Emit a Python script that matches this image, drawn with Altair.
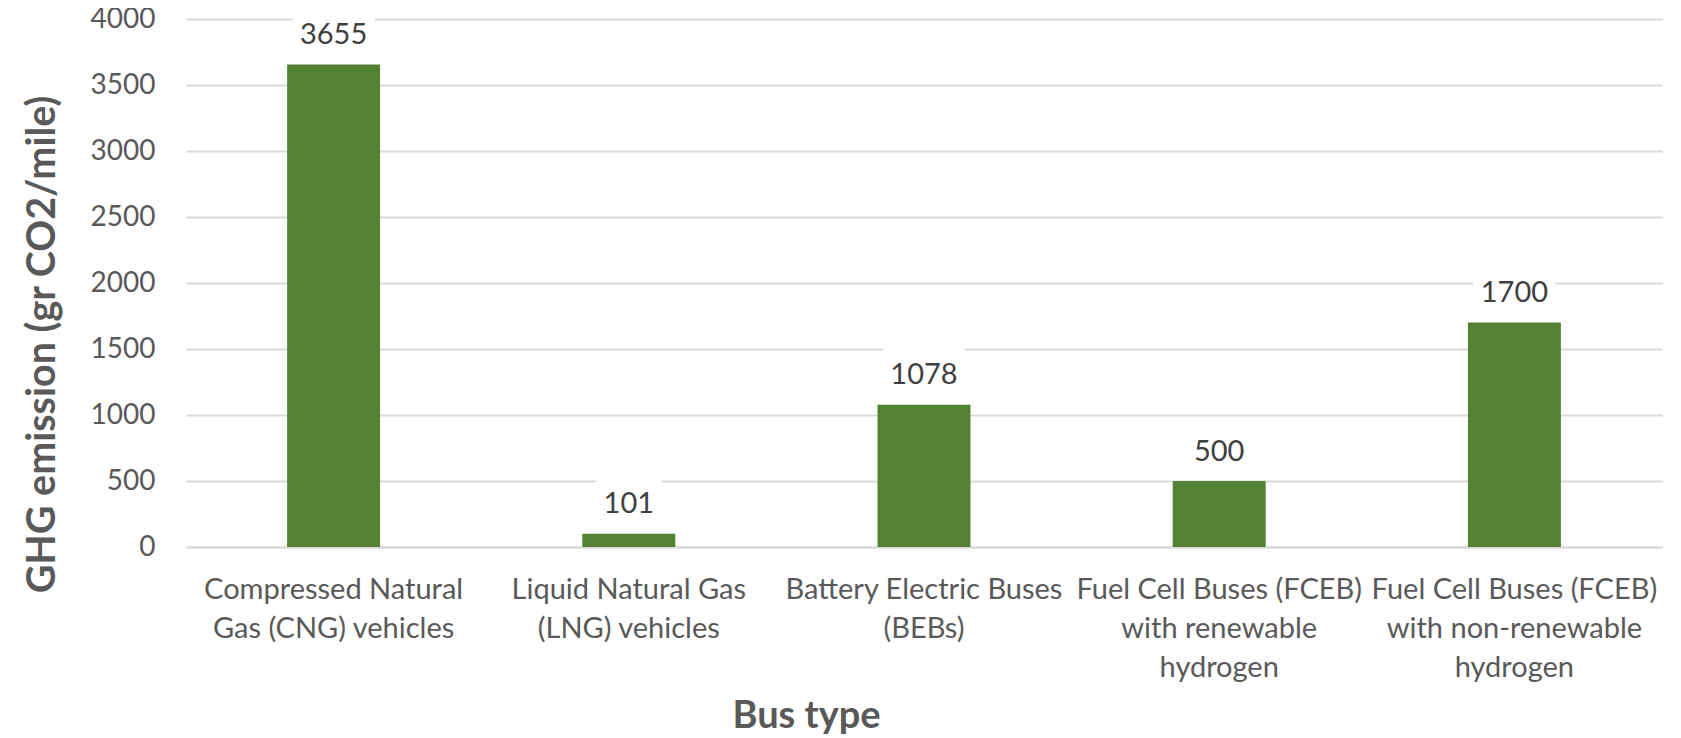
import altair as alt
import pandas as pd

# ---- data ----
categories = [
    "Compressed Natural\nGas (CNG) vehicles",
    "Liquid Natural Gas\n(LNG) vehicles",
    "Battery Electric Buses\n(BEBs)",
    "Fuel Cell Buses (FCEB)\nwith renewable\nhydrogen",
    "Fuel Cell Buses (FCEB)\nwith non-renewable\nhydrogen",
]
values = [3655, 101, 1078, 500, 1700]
y_ticks = [0, 500, 1000, 1500, 2000, 2500, 3000, 3500, 4000]
y_title = "GHG emission (gr CO2/mile)"
x_title = "Bus type"

df = pd.DataFrame({"bus": categories, "ghg": values})

FONT = "Lato"
TXT = "#595959"
GRID = "#d9d9d9"
GREEN = "#548235"

# label background boxes (white, hide gridlines behind data labels)
PATH4 = "M-1,-0.683L1,-0.683L1,0.683L-1,0.683Z"   # 82 x 56 px
PATH3 = "M-1,-0.862L1,-0.862L1,0.862L-1,0.862Z"   # 65 x 56 px

x_enc = alt.X(
    "bus:N",
    sort=categories,
    scale=alt.Scale(paddingInner=0.685, paddingOuter=0.3425),
    axis=alt.Axis(
        title=x_title,
        labelExpr="split(datum.label, '\\n')",
        labelAngle=0,
        labelFont=FONT,
        labelFontSize=29,
        labelLineHeight=39,
        labelColor=TXT,
        labelPadding=28,
        labelLimit=0,
        labelOverlap=False,
        ticks=False,
        domain=True,
        domainColor=GRID,
        domainWidth=2,
        grid=False,
        titleFont=FONT,
        titleFontSize=38,
        titleFontWeight="bold",
        titleColor=TXT,
        titleX=620,
        titleY=180,
        titleAlign="center",
        titleBaseline="alphabetic",
    ),
)

y_enc = alt.Y(
    "ghg:Q",
    scale=alt.Scale(domain=[0, 4000], nice=False),
    axis=alt.Axis(
        title=y_title,
        values=y_ticks,
        format="d",
        labelFont=FONT,
        labelFontSize=28,
        labelColor=TXT,
        labelPadding=31,
        ticks=False,
        domain=False,
        grid=True,
        gridColor=GRID,
        gridWidth=2,
        titleFont=FONT,
        titleFontSize=39.5,
        titleFontWeight="bold",
        titleColor=TXT,
        titleAngle=-90,
        titleX=-132,
        titleY=325,
        titleAlign="center",
        titleBaseline="alphabetic",
    ),
)

base = alt.Chart(df).encode(x=x_enc, y=y_enc)

bars = base.mark_bar(color=GREEN)

boxes = base.transform_calculate(lbl="toString(datum.ghg)").mark_point(
    filled=True, color="white", opacity=1, strokeWidth=0, yOffset=-30
).encode(
    shape=alt.condition("length(datum.lbl) > 3", alt.value(PATH4), alt.value(PATH3)),
    size=alt.condition("length(datum.lbl) > 3", alt.value(6724), alt.value(4225)),
)

labels = base.mark_text(
    dy=-29.5, fontSize=29, font=FONT, color="#404040", baseline="middle"
).encode(text=alt.Text("ghg:Q", format="d"))

chart = (
    alt.layer(bars, boxes, labels)
    .properties(
        width=1476,
        height=528,
        autosize=alt.AutoSizeParams(type="none"),
        padding={"left": 178, "top": 11, "right": 11, "bottom": 187},
        background="white",
    )
    .configure_view(stroke=None)
)

chart.save("out.html", embed_options={"renderer": "svg", "actions": False})
